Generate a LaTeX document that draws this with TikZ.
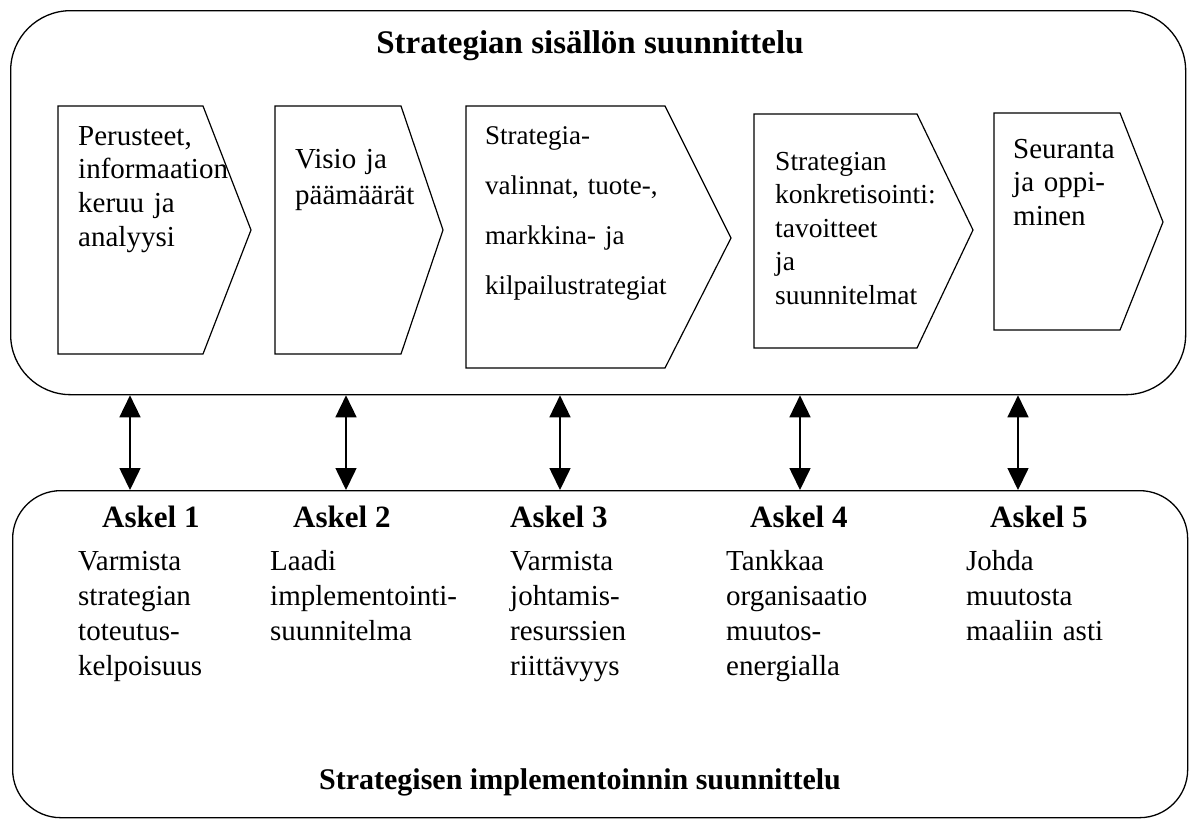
\documentclass[tikz,border=0pt]{standalone}
\usepackage{fontspec}
\setmainfont{Liberation Serif}
\usetikzlibrary{arrows.meta}
\begin{document}
\begin{tikzpicture}[x=1pt,y=-1pt,
  bigbox/.style={draw, line width=1.3pt, inner sep=0pt, anchor=north west},
  penta/.style={draw, line width=1.2pt, line join=miter},
  biarrow/.style={line width=1.6pt, {Triangle[width=21pt,length=22pt]}-{Triangle[width=21pt,length=22pt]}},
  txt/.style={anchor=base west, inner sep=0pt, text width=300pt, align=left, font=\fontsize{29}{33.7}\selectfont},
  txtv/.style={txt, font=\fontsize{29}{36}\selectfont},
  txtb/.style={txt, font=\fontsize{27}{50}\selectfont},
  txtc/.style={txt, font=\fontsize{27.5}{33.5}\selectfont},
  low/.style={txt, font=\fontsize{29}{35}\selectfont},
  askel/.style={anchor=base west, inner sep=0pt, font=\fontsize{31}{34}\selectfont\bfseries},
  title/.style={anchor=base, inner sep=0pt, font=\fontsize{30}{34}\selectfont\bfseries},
  toptitle/.style={title, font=\fontsize{33}{36}\selectfont\bfseries}]
\useasboundingbox (0,0) rectangle (1193,820);

% rounded frames
\node[bigbox, rounded corners=60pt, minimum width=1175pt, minimum height=384pt] (content) at (10,10) {};
\node[bigbox, rounded corners=48pt, minimum width=1175pt, minimum height=327pt] (impl) at (12,490) {};

\node[toptitle] (t1) at (590,53) {Strategian sisällön suunnittelu};
\node[title] (t2) at (580,789) {Strategisen implementoinnin suunnittelu};

% pentagons
\draw[penta] (58,106) -- (203,106) -- (251,230) -- (203,354) -- (58,354) -- cycle;
\draw[penta] (275,106) -- (401,106) -- (443,230) -- (401,354) -- (275,354) -- cycle;
\draw[penta] (466,106) -- (665,106) -- (731,238) -- (665,368) -- (466,368) -- cycle;
\draw[penta] (754,114) -- (917,114) -- (973,230) -- (917,348) -- (754,348) -- cycle;
\draw[penta] (994,113) -- (1120,113) -- (1163,222) -- (1120,330) -- (994,330) -- cycle;

\node[txt] (p1) at (78,145) {Perusteet,\\informaation\\keruu ja\\analyysi};
\node[txtv] (p2) at (295,168) {Visio ja\\päämäärät};
\node[txtb] (p3) at (485,144) {Strategia-\\valinnat, tuote-,\\markkina- ja\\kilpailustrategiat};
\node[txtc] (p4) at (775,170) {Strategian\\konkretisointi:\\tavoitteet\\ja\\suunnitelmat};
\node[txt] (p5) at (1013,158) {Seuranta\\ja oppi-\\minen};

% arrows
\coordinate (c1) at (130,0);
\coordinate (c2) at (346,0);
\coordinate (c3) at (560,0);
\coordinate (c4) at (800,0);
\coordinate (c5) at (1018,0);
\foreach \c in {c1,c2,c3,c4,c5}
  \draw[biarrow] (content.south -| \c) -- (impl.north -| \c);

% steps
\node[askel] (s1) at (102,527) {Askel 1};
\node[askel] (s2) at (293,527) {Askel 2};
\node[askel] (s3) at (510,527) {Askel 3};
\node[askel] (s4) at (750,527) {Askel 4};
\node[askel] (s5) at (990,527) {Askel 5};

\node[low] (l1) at (78,570) {Varmista\\strategian\\toteutus-\\kelpoisuus};
\node[low] (l2) at (270,570) {Laadi\\implementointi-\\suunnitelma};
\node[low] (l3) at (510,570) {Varmista\\johtamis-\\resurssien\\riittävyys};
\node[low] (l4) at (726,570) {Tankkaa\\organisaatio\\muutos-\\energialla};
\node[low] (l5) at (966,570) {Johda\\muutosta\\maaliin asti};
\end{tikzpicture}
\end{document}
